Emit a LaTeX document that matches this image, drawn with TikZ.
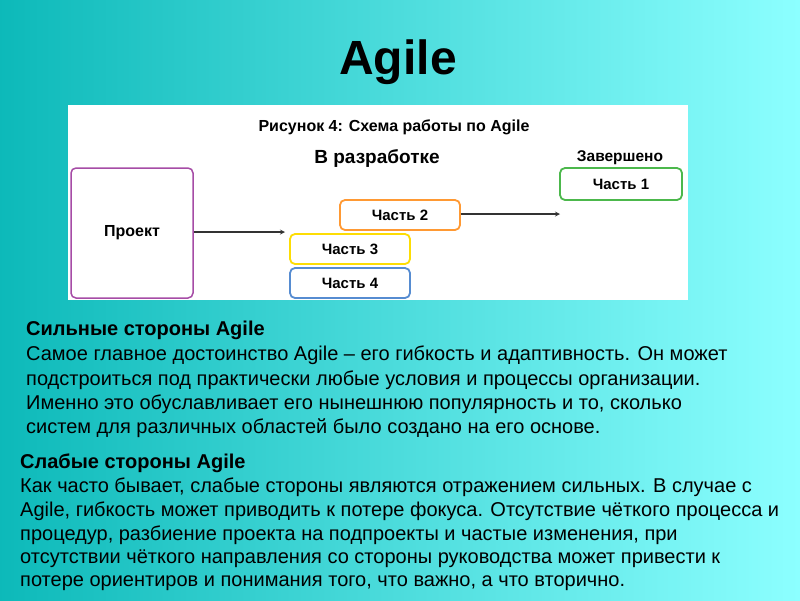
\documentclass[tikz,border=0pt]{standalone}
\usepackage{fontspec}
\setmainfont{Liberation Sans}
\begin{document}
\begin{tikzpicture}[x=1pt,y=-1pt,
  part/.style={draw=#1,line width=1.8pt,rounded corners=5pt,minimum width=120pt,minimum height=30pt,fill=white,font=\bfseries\fontsize{15}{16}\selectfont},
  lbl/.style={font=\bfseries\fontsize{#1}{#1}\selectfont},
  body/.style={anchor=west,font=\fontsize{20}{20}\selectfont,inner sep=0pt},
  arr/.style={->,>=stealth,line width=1.2pt,draw=black!80}]
\fill[left color=cyan!50!teal!95!black!95,right color=cyan!45!white] (0,0) rectangle (800,600);
\node[font=\bfseries\fontsize{48}{48}\selectfont] (title) at (398,62) {Agile};
\node[fill=white,minimum width=620pt,minimum height=195pt,inner sep=0pt,anchor=north west] (panel) at (68,105) {};
\node[lbl=16] (cap) at (394,127) {Рисунок 4: Схема работы по Agile};
\node[lbl=19] (dev) at (377,158) {В разработке};
\node[lbl=15.5] (done) at (620,158) {Завершено};
\node[draw=violet!70,line width=1.5pt,rounded corners=5pt,minimum width=122pt,minimum height=130pt,font=\bfseries\fontsize{16}{17}\selectfont] (proj) at (132,233) {Проект};
\node[part=orange!80] (p2) at (400,215) {Часть 2};
\node[part=yellow!80!orange] (p3) at (350,249) {Часть 3};
\node[part=cyan!50!blue!70] (p4) at (350,283) {Часть 4};
\node[part=green!60!black!70,minimum width=122pt,minimum height=32pt] (p1) at (621,184) {Часть 1};
\coordinate (a1) at (285,232);
\coordinate (a2) at (560,214);
\draw[arr] (proj.east |- a1) -- (a1);
\draw[arr] (p2.east |- a2) -- (a2);
\node[body,font=\bfseries\fontsize{20}{20}\selectfont] (h1) at (26,330) {Сильные стороны Agile};
\node[body] (s1) at (26,355) {Самое главное достоинство Agile – его гибкость и адаптивность. Он может};
\node[body] (s2) at (26,380) {подстроиться под практически любые условия и процессы организации.};
\node[body] (s3) at (26,404) {Именно это обуславливает его нынешнюю популярность и то, сколько};
\node[body] (s4) at (26,428) {систем для различных областей было создано на его основе.};
\node[body,font=\bfseries\fontsize{20}{20}\selectfont] (h2) at (20,463) {Слабые стороны Agile};
\node[body] (w1) at (20,487) {Как часто бывает, слабые стороны являются отражением сильных. В случае с};
\node[body] (w2) at (20,511) {Agile, гибкость может приводить к потере фокуса. Отсутствие чёткого процесса и};
\node[body] (w3) at (20,535) {процедур, разбиение проекта на подпроекты и частые изменения, при};
\node[body] (w4) at (20,559) {отсутствии чёткого направления со стороны руководства может привести к};
\node[body] (w5) at (20,583) {потере ориентиров и понимания того, что важно, а что вторично.};
\end{tikzpicture}
\end{document}
